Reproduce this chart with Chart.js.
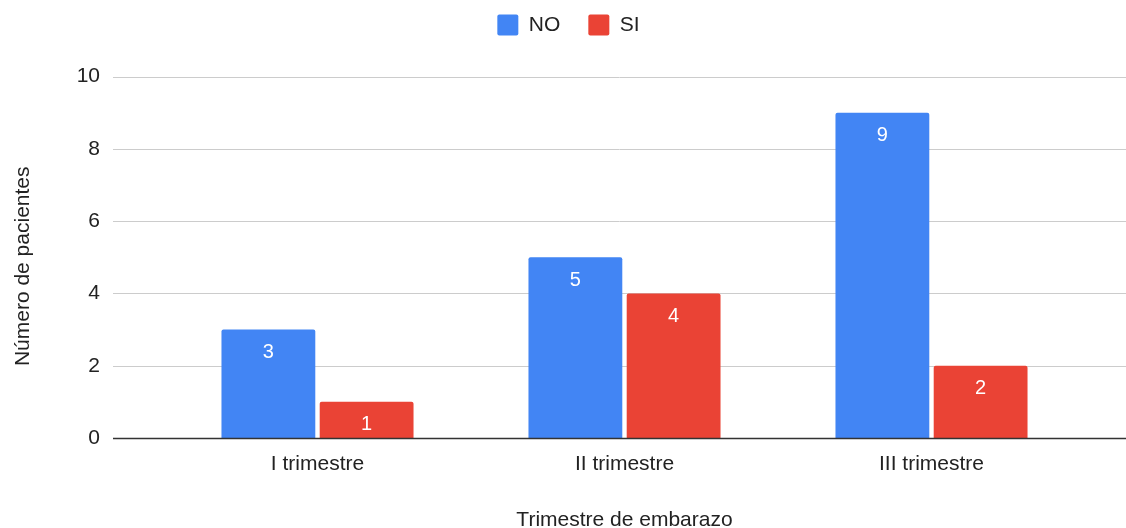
<!DOCTYPE html>
<html>
<head>
<meta charset="utf-8">
<script src="https://cdn.jsdelivr.net/npm/chart.js@4"></script>
<style>
  html, body { margin: 0; padding: 0; background: #fff; }
  #wrap { width: 1126px; height: 528px; }
</style>
</head>
<body>
<div id="wrap"><canvas id="grafico" width="1126" height="528"></canvas></div>
<script>
const trimestres = ['I trimestre', 'II trimestre', 'III trimestre'];
const valoresNo = [3, 5, 9];
const valoresSi = [1, 4, 2];
const ticksY = [0, 2, 4, 6, 8, 10];

const fuente = '"Liberation Sans", Arial, sans-serif';
const colorTexto = '#222';

// lineas horizontales a lo ancho, como en Sheets
const lineasFondo = {
    id: 'lineasFondo',
    afterInit(chart) {
        // la leyenda ocupa 75px de alto pero se dibuja mas arriba
        const leyenda = chart.legend;
        const fitOrig = leyenda.fit;
        leyenda.fit = function () {
            fitOrig.call(this);
            this.height = 75;
        };
    },
    afterLayout(chart) {
        const leyenda = chart.legend;
        leyenda.top -= 15;
        leyenda.bottom -= 15;
        leyenda.left += 26;
        leyenda.right += 26;

        // titulo del eje y un poco mas abajo
        const ejeY = chart.scales.y;
        ejeY.drawTitle = function () {
            const ctx = this.ctx;
            ctx.save();
            ctx.translate(3, 9);
            Object.getPrototypeOf(this).drawTitle.call(this);
            ctx.restore();
        };
    },
    beforeDatasetsDraw(chart) {
        const ctx = chart.ctx;
        const y = chart.scales.y;
        ctx.save();
        ctx.lineWidth = 1;
        ctx.strokeStyle = '#cccccc';
        ticksY.forEach(v => {
            if (v === 0) return;
            const py = Math.round(y.getPixelForValue(v)) + 0.5;
            ctx.beginPath();
            ctx.moveTo(113, py);
            ctx.lineTo(chart.width, py);
            ctx.stroke();
        });
        ctx.restore();
    },
    afterDatasetsDraw(chart) {
        const ctx = chart.ctx;
        const y = chart.scales.y;
        const py = Math.round(y.getPixelForValue(0)) + 0.5;
        ctx.save();
        ctx.strokeStyle = '#333333';
        ctx.lineWidth = 1.3;
        ctx.beginPath();
        ctx.moveTo(113, py);
        ctx.lineTo(chart.width, py);
        ctx.stroke();

        // etiquetas dentro de las barras
        ctx.fillStyle = '#ffffff';
        ctx.font = '20px ' + fuente;
        ctx.textAlign = 'center';
        ctx.textBaseline = 'middle';
        chart.data.datasets.forEach((ds, i) => {
            chart.getDatasetMeta(i).data.forEach((bar, j) => {
                ctx.fillText(String(ds.data[j]), bar.x, bar.y + 23);
            });
        });
        ctx.restore();
    }
};

new Chart(document.getElementById('grafico'), {
    type: 'bar',
    data: {
        labels: trimestres,
        datasets: [{
            label: 'NO',
            data: valoresNo,
            backgroundColor: '#4285F4',
            borderRadius: { topLeft: 2, topRight: 2 },
            borderSkipped: 'bottom'
        }, {
            label: 'SI',
            data: valoresSi,
            backgroundColor: '#EA4335',
            borderRadius: { topLeft: 2, topRight: 2 },
            borderSkipped: 'bottom'
        }]
    },
    options: {
        responsive: false,
        animation: false,
        layout: { padding: { top: 0, right: 41, bottom: 0, left: 0 } },
        datasets: {
            bar: { categoryPercentage: 0.64, barPercentage: 0.955 }
        },
        plugins: {
            tooltip: { enabled: false },
            legend: {
                position: 'top',
                labels: {
                    boxWidth: 21,
                    boxHeight: 21,
                    useBorderRadius: true,
                    borderRadius: 2,
                    padding: 28,
                    color: colorTexto,
                    font: { family: fuente, size: 21 }
                }
            }
        },
        scales: {
            x: {
                grid: { display: false },
                border: { display: false },
                ticks: { color: colorTexto, padding: 6, font: { family: fuente, size: 21 } },
                title: {
                    display: true,
                    text: 'Trimestre de embarazo',
                    color: colorTexto,
                    padding: { top: 0, bottom: -5 },
                    font: { family: fuente, size: 21 }
                },
                afterFit(scale) { scale.height = 90; }
            },
            y: {
                min: 0,
                max: 10,
                grid: { display: false, drawTicks: false },
                border: { display: false },
                afterBuildTicks(scale) { scale.ticks = ticksY.map(v => ({ value: v })); },
                ticks: { color: colorTexto, padding: 64, font: { family: fuente, size: 21 } },
                title: {
                    display: true,
                    text: 'Número de pacientes',
                    color: colorTexto,
                    padding: { top: 8, bottom: 0 },
                    font: { family: fuente, size: 21 }
                },
                afterFit(scale) { scale.width = 164; }
            }
        }
    },
    plugins: [lineasFondo]
});
</script>
</body>
</html>
